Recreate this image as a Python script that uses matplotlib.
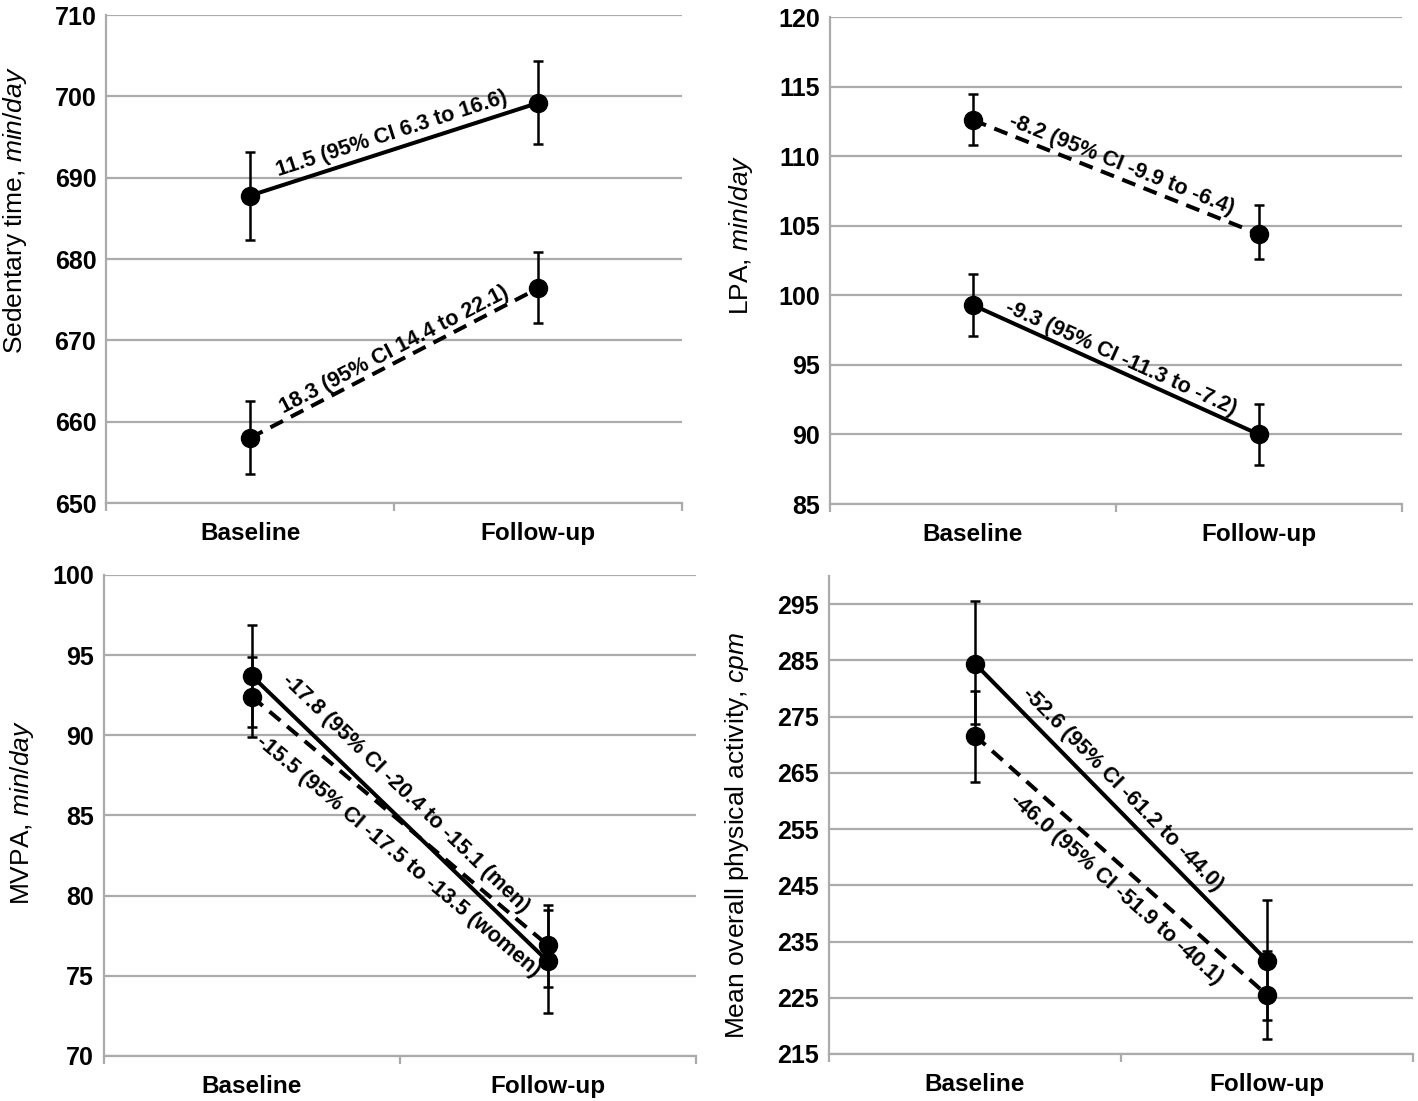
import numpy as np
import matplotlib.pyplot as plt

plt.rcParams['font.family'] = 'Liberation Sans'
plt.rcParams['mathtext.fontset'] = 'custom'
plt.rcParams['mathtext.rm'] = 'Liberation Sans'
plt.rcParams['mathtext.it'] = 'Liberation Sans:italic'

groups = ['Baseline', 'Follow-up']

# sedentary time, min/day (solid = men, dashed = women)
sed_men = [687.8, 699.2]
sed_men_lo = [682.3, 694.1]
sed_men_hi = [693.2, 704.4]
sed_women = [658.0, 676.4]
sed_women_lo = [653.6, 672.1]
sed_women_hi = [662.5, 680.9]
sed_notes = ['11.5 (95% CI 6.3 to 16.6)', '18.3 (95% CI 14.4 to 22.1)']

# LPA, min/day
lpa_men = [99.3, 90.0]
lpa_men_lo = [97.1, 87.8]
lpa_men_hi = [101.5, 92.2]
lpa_women = [112.6, 104.4]
lpa_women_lo = [110.8, 102.6]
lpa_women_hi = [114.5, 106.5]
lpa_notes = ['-9.3 (95% CI -11.3 to -7.2)', '-8.2 (95% CI -9.9 to -6.4)']

# MVPA, min/day
mvpa_men = [93.7, 75.9]
mvpa_men_lo = [90.5, 72.7]
mvpa_men_hi = [96.9, 79.1]
mvpa_women = [92.4, 76.9]
mvpa_women_lo = [89.9, 74.3]
mvpa_women_hi = [94.9, 79.4]
mvpa_notes = ['-17.8 (95% CI -20.4 to -15.1 (men)', '-15.5 (95% CI -17.5 to -13.5 (women)']

# mean overall physical activity, cpm
cpm_men = [284.4, 231.6]
cpm_men_lo = [273.6, 221.0]
cpm_men_hi = [295.6, 242.4]
cpm_women = [271.6, 225.5]
cpm_women_lo = [263.4, 217.6]
cpm_women_hi = [279.6, 233.4]
cpm_notes = ['-52.6 (95% CI -61.2 to -44.0)', '-46.0 (95% CI -51.9 to -40.1)']

panels = [
    dict(rect=[0.0748, 0.5431, 0.4062, 0.4432], ylim=(650, 710), ticks=np.arange(650, 711, 10),
         ylabel='Sedentary time, $\\mathit{min/day}$', labpos=(-0.158, 0.600),
         men=(sed_men, sed_men_lo, sed_men_hi), women=(sed_women, sed_women_lo, sed_women_hi),
         notes=sed_notes, notepos=[(0.493, 695.4), (0.50, 668.8)]),
    dict(rect=[0.5853, 0.5422, 0.4034, 0.4423], ylim=(85, 120), ticks=np.arange(85, 121, 5),
         ylabel='LPA, $\\mathit{min/day}$', labpos=(-0.156, 0.552),
         men=(lpa_men, lpa_men_lo, lpa_men_hi), women=(lpa_women, lpa_women_lo, lpa_women_hi),
         notes=lpa_notes, notepos=[(0.517, 95.49), (0.521, 109.36)]),
    dict(rect=[0.0733, 0.0409, 0.4175, 0.4369], ylim=(70, 100), ticks=np.arange(70, 101, 5),
         ylabel='MVPA, $\\mathit{min/day}$', labpos=(-0.139, 0.507),
         men=(mvpa_men, mvpa_men_lo, mvpa_men_hi), women=(mvpa_women, mvpa_women_lo, mvpa_women_hi),
         notes=mvpa_notes, notepos=[(0.520, 86.34), (0.493, 82.47)]),
    dict(rect=[0.5846, 0.0427, 0.4118, 0.4342], ylim=(215, 300), ticks=np.arange(215, 300, 10),
         ylabel='Mean overall physical activity, $\\mathit{cpm}$', labpos=(-0.158, 0.456),
         men=(cpm_men, cpm_men_lo, cpm_men_hi), women=(cpm_women, cpm_women_lo, cpm_women_hi),
         notes=cpm_notes, notepos=[(0.507, 262.1), (0.486, 244.3)]),
]

fig = plt.figure(figsize=(14.18, 11.01), dpi=100)
x = np.arange(len(groups))
grid_c = '#ababab'

for p in panels:
    ax = fig.add_axes(p['rect'])
    ax.set_xlim(-0.5, 1.5)
    ax.set_ylim(*p['ylim'])
    ax.set_yticks(p['ticks'])
    ax.grid(axis='y', color=grid_c, lw=1.6)
    ax.set_axisbelow(True)
    for s in ['top', 'right']:
        ax.spines[s].set_visible(False)
    for s in ['left', 'bottom']:
        ax.spines[s].set_color(grid_c)
        ax.spines[s].set_linewidth(1.6)

    ax.set_xticks(x)
    ax.set_xticklabels(groups, fontsize=17.5, fontweight='bold')
    ax.set_xticks([-0.5, 0.5, 1.5], minor=True)
    ax.tick_params(axis='x', which='major', length=0, pad=14)
    ax.tick_params(axis='x', which='minor', length=6, width=1.6, color=grid_c)
    ax.tick_params(axis='y', length=0, pad=7, labelsize=18)
    for t in ax.get_yticklabels():
        t.set_fontweight('bold')

    ax.set_ylabel(p['ylabel'], fontsize=19, va='center')
    ax.yaxis.set_label_coords(*p['labpos'])

    lines = []
    for (vals, lo, hi), ls in [(p['men'], '-'), (p['women'], (0, (3.5, 2.2)))]:
        vals = np.array(vals)
        err = [vals - np.array(lo), np.array(hi) - vals]
        ax.errorbar(x, vals, yerr=err, fmt='none', ecolor='black', elinewidth=1.8,
                    capsize=3.5, capthick=1.8, zorder=3)
        ax.plot(x, vals, color='black', lw=2.9, linestyle=ls, marker='o',
                markersize=13, zorder=4)
        lines.append(vals)

    for note, (tx, ty), vals in zip(p['notes'], p['notepos'], lines):
        p0 = ax.transData.transform((x[0], vals[0]))
        p1 = ax.transData.transform((x[1], vals[1]))
        ang = np.degrees(np.arctan2(p1[1] - p0[1], p1[0] - p0[0]))
        ax.text(tx, ty, note, rotation=ang, rotation_mode='anchor', ha='center', va='center',
                fontsize=15.5, fontweight='bold', zorder=5)

fig.savefig('out.png', dpi=100)
